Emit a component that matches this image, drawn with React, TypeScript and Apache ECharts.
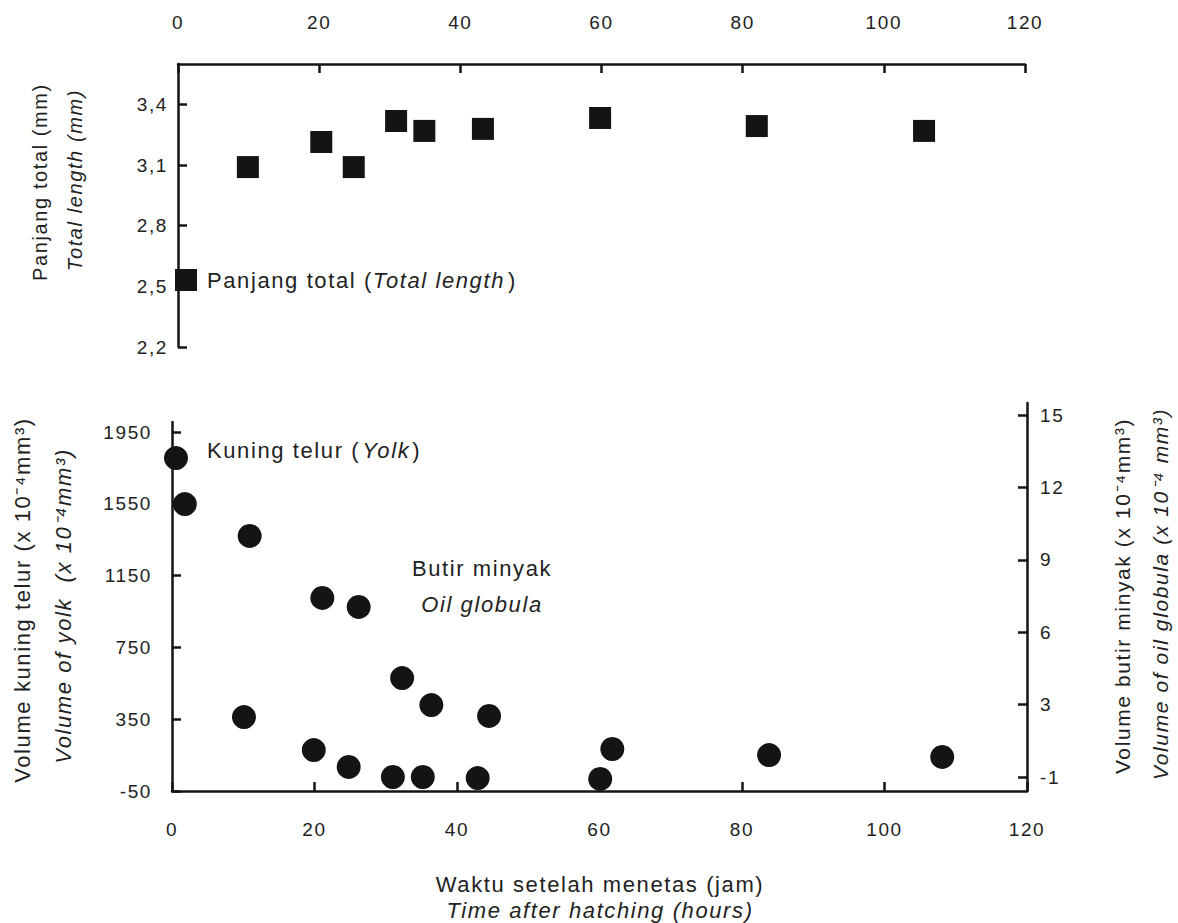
import React, { useEffect, useRef } from 'react';
import * as echarts from 'echarts';

const FONT = '"Liberation Sans", Arial, sans-serif';
const LS = 1.6;
const INK = '#141414';
const TXT = '#222222';

// tick values
const timeTicks = [0, 20, 40, 60, 80, 100, 120];
const lengthTicks = [2.2, 2.5, 2.8, 3.1, 3.4];
const yolkTicks = [-50, 350, 750, 1150, 1550, 1950];
const oilTicks = [0, 3, 6, 9, 12, 15];
const oilTickLabels = ['-1', '3', '6', '9', '12', '15'];

// Panjang total (Total length), mm
const lengthHours = [9.9, 20.3, 24.9, 30.9, 34.9, 43.2, 59.8, 82.0, 105.7];
const totalLength = [3.09, 3.214, 3.09, 3.318, 3.269, 3.279, 3.333, 3.293, 3.269];

// Kuning telur (Yolk), x10^-4 mm3
const yolkHours = [0.56, 10.1, 19.9, 24.8, 31.0, 35.2, 42.9, 60.1];
const yolkVolume = [1805, 362, 178, 84, 28, 28, 22, 17];

// Butir minyak (Oil globula), x10^-4 mm3
const oilHours = [1.8, 10.9, 21.1, 26.2, 32.3, 36.4, 44.5, 61.8, 83.8, 108.1];
const oilVolume = [11.31, 9.99, 7.42, 7.05, 4.1, 2.98, 2.53, 1.16, 0.91, 0.83];

function measure(text: string, size: number, italic = false): number {
  const c = document.createElement('canvas').getContext('2d');
  if (!c) return text.length * size * 0.5;
  c.font = `${italic ? 'italic ' : ''}${size}px ${FONT}`;
  return c.measureText(text).width + text.length * LS;
}

function vtext(text: string, x: number, y: number, size: number, italic = false) {
  return {
    type: 'text',
    x,
    y,
    rotation: Math.PI / 2,
    silent: true,
    style: {
      text,
      x: 0,
      y: 0,
      fill: TXT,
      font: `${italic ? 'italic ' : ''}${size}px ${FONT}`,
      align: 'center',
      verticalAlign: 'middle',
      textAlign: 'center',
      textVerticalAlign: 'middle',
    },
  };
}

function htext(text: string, x: number, y: number, size: number, italic = false, align = 'center') {
  return {
    type: 'text',
    x,
    y,
    silent: true,
    style: {
      text,
      x: 0,
      y: 0,
      fill: TXT,
      font: `${italic ? 'italic ' : ''}${size}px ${FONT}`,
      align,
      verticalAlign: 'middle',
      textAlign: align,
      textVerticalAlign: 'middle',
    },
  };
}

const axisLine = { show: true, onZero: false, lineStyle: { color: INK, width: 2.5 } };
const tickStyle = { color: INK, width: 2.5 };
const labelBase = { color: TXT, fontSize: 19, fontFamily: FONT };

export default function App() {
  const ref = useRef<HTMLDivElement>(null);

  useEffect(() => {
    if (!ref.current) return;
    const chart = echarts.init(ref.current, undefined, { renderer: 'svg' });

    const LEG = 22;
    const legA = 'Panjang total (';
    const legI = 'Total length';
    const legB = ')';
    const ANN = 22;
    const kA = 'Kuning telur (';
    const kI = 'Yolk';
    const kB = ')';

    const option: any = {
      animation: false,
      backgroundColor: '#ffffff',
      grid: [
        { left: 178, top: 64, width: 847, height: 283, containLabel: false },
        { left: 172, top: 422, width: 855, height: 369, containLabel: false },
        { left: 172, top: 403, width: 855, height: 388, containLabel: false },
      ],
      xAxis: [
        {
          gridIndex: 0,
          type: 'value',
          position: 'top',
          min: 0,
          max: 120,
          interval: 20,
          axisLine,
          axisTick: { show: true, inside: true, length: 9, lineStyle: tickStyle, customValues: timeTicks },
          axisLabel: { ...labelBase, margin: 32, customValues: timeTicks },
          splitLine: { show: false },
        },
        {
          gridIndex: 1,
          type: 'value',
          position: 'bottom',
          min: 0,
          max: 120,
          interval: 20,
          axisLine,
          axisTick: { show: true, inside: true, length: 9, lineStyle: tickStyle, customValues: timeTicks },
          axisLabel: { ...labelBase, margin: 29, customValues: timeTicks },
          splitLine: { show: false },
        },
        {
          gridIndex: 2,
          type: 'value',
          show: false,
          min: 0,
          max: 120,
          splitLine: { show: false },
        },
      ],
      yAxis: [
        {
          gridIndex: 0,
          type: 'value',
          min: 2.2,
          max: 3.6,
          axisLine,
          axisTick: { show: true, inside: true, length: 9, lineStyle: tickStyle, customValues: lengthTicks },
          axisLabel: {
            ...labelBase,
            margin: 10,
            customValues: lengthTicks,
            formatter: (v: number) => v.toFixed(1).replace('.', ','),
          },
          splitLine: { show: false },
        },
        {
          gridIndex: 1,
          type: 'value',
          min: -50,
          max: 2006,
          axisLine,
          axisTick: { show: true, inside: true, length: 9, lineStyle: tickStyle, customValues: yolkTicks },
          axisLabel: {
            ...labelBase,
            margin: 20,
            customValues: yolkTicks,
            formatter: (v: number) => String(Math.round(v)),
          },
          splitLine: { show: false },
        },
        {
          gridIndex: 2,
          type: 'value',
          position: 'right',
          min: -0.58,
          max: 15.5,
          axisLine,
          axisTick: { show: true, inside: true, length: 9, lineStyle: tickStyle, customValues: oilTicks },
          axisLabel: {
            ...labelBase,
            margin: 13,
            customValues: oilTicks,
            formatter: (v: number) => {
              const i = oilTicks.indexOf(Math.round(v));
              return i >= 0 ? oilTickLabels[i] : String(v);
            },
          },
          splitLine: { show: false },
        },
      ],
      legend: {
        data: ['Panjang total'],
        left: 175,
        top: 269,
        padding: 0,
        itemWidth: 22,
        itemHeight: 22,
        icon: 'rect',
        selectedMode: false,
        formatter: () => `{a|${legA}}{i|${legI}}{b|${legB}}`,
        textStyle: {
          color: TXT,
          fontSize: LEG,
          fontFamily: FONT,
          padding: [0, 0, 0, 5],
          rich: {
            a: { fontSize: LEG, fontFamily: FONT, color: TXT, width: measure(legA, LEG) },
            i: { fontSize: LEG, fontFamily: FONT, color: TXT, fontStyle: 'italic', width: measure(legI, LEG, true) + 3 },
            b: { fontSize: LEG, fontFamily: FONT, color: TXT, width: measure(legB, LEG) },
          },
        },
      },
      graphic: {
        elements: [
          vtext('Panjang total (mm)', 40, 182, 20),
          vtext('Total length (mm)', 75, 180, 20, true),
          vtext('Volume kuning telur (x 10⁻⁴mm³)', 22, 600, 22),
          vtext('Volume of yolk  (x 10⁻⁴mm³)', 63, 606, 22, true),
          vtext('Volume butir minyak (x 10⁻⁴mm³)', 1122, 596, 21),
          vtext('Volume of oil globula (x 10⁻⁴ mm³)', 1160, 594, 21, true),
          htext('Waktu setelah menetas (jam)', 600, 884, 22),
          htext('Time after hatching (hours)', 600, 910, 22, true),
          {
            type: 'text',
            x: 207,
            y: 450,
            silent: true,
            style: {
              text: `{a|${kA}}{i|${kI}}{b|${kB}}`,
              x: 0,
              y: 0,
              fill: TXT,
              font: `${ANN}px ${FONT}`,
              align: 'left',
              verticalAlign: 'middle',
              textAlign: 'left',
              textVerticalAlign: 'middle',
              rich: {
                a: { fontSize: ANN, fontFamily: FONT, fill: TXT, width: measure(kA, ANN) + 2 },
                i: { fontSize: ANN, fontFamily: FONT, fill: TXT, fontStyle: 'italic', width: measure(kI, ANN, true) + 2 },
                b: { fontSize: ANN, fontFamily: FONT, fill: TXT, width: measure(kB, ANN) },
              },
            },
          },
          htext('Butir minyak', 482, 568, 22),
          htext('Oil globula', 482, 604, 22, true),
        ],
      },
      series: [
        {
          type: 'scatter',
          name: 'Panjang total',
          xAxisIndex: 0,
          yAxisIndex: 0,
          symbol: 'rect',
          symbolSize: 22,
          clip: false,
          itemStyle: { color: INK, opacity: 1 },
          data: lengthHours.map((h, i) => [h, totalLength[i]]),
        },
        {
          type: 'scatter',
          name: 'Kuning telur',
          xAxisIndex: 1,
          yAxisIndex: 1,
          symbol: 'circle',
          symbolSize: 24,
          clip: false,
          itemStyle: { color: INK, opacity: 1 },
          data: yolkHours.map((h, i) => [h, yolkVolume[i]]),
        },
        {
          type: 'scatter',
          name: 'Butir minyak',
          xAxisIndex: 2,
          yAxisIndex: 2,
          symbol: 'circle',
          symbolSize: 24,
          clip: false,
          itemStyle: { color: INK, opacity: 1 },
          data: oilHours.map((h, i) => [h, oilVolume[i]]),
        },
      ],
    };

    chart.setOption(option);
    return () => chart.dispose();
  }, []);

  return (
    <div
      ref={ref}
      style={{
        position: 'fixed',
        left: 0,
        top: 0,
        width: 1178,
        height: 923,
        background: '#ffffff',
        letterSpacing: `${LS}px`,
      }}
    />
  );
}
